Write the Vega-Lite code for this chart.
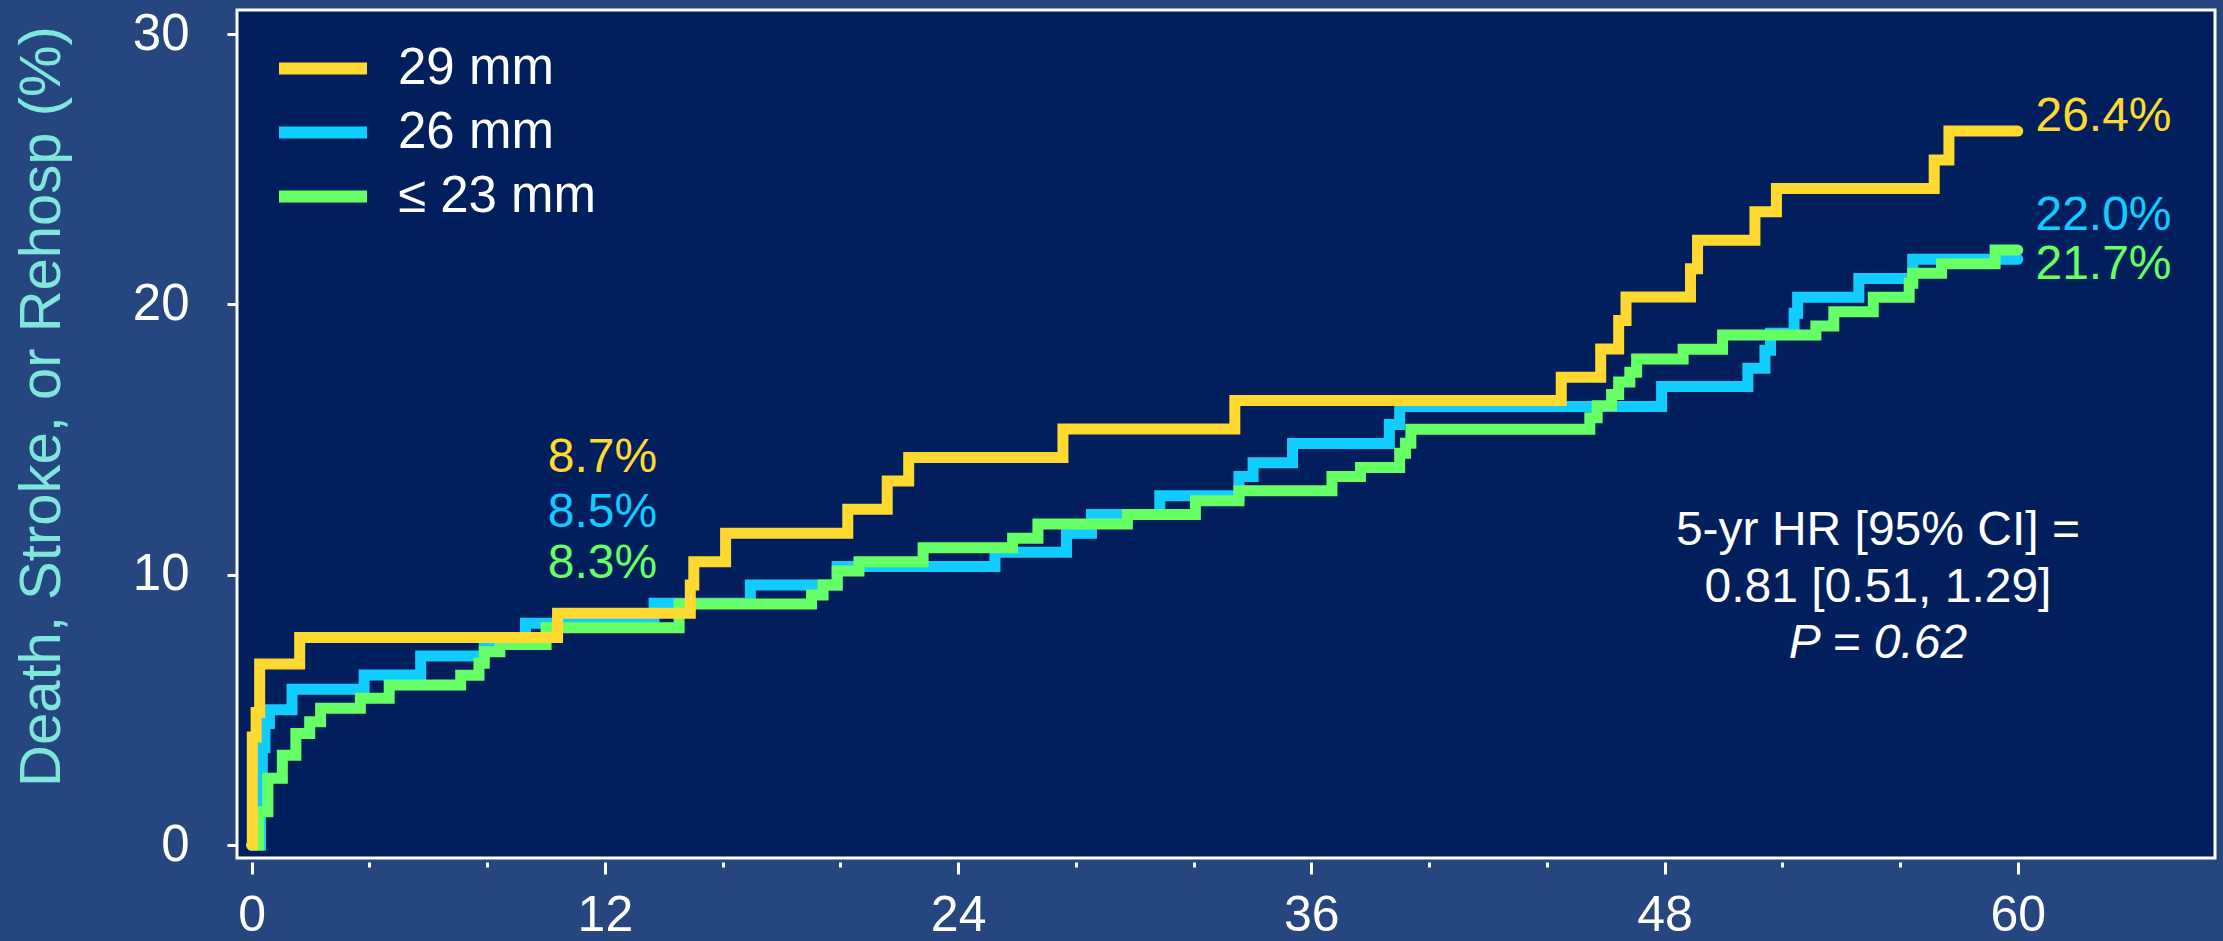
{
  "$schema": "https://vega.github.io/schema/vega-lite/v6.json",
  "width": 1978,
  "height": 848,
  "autosize": "none",
  "padding": {"left": 237, "top": 10, "right": 8, "bottom": 83},
  "background": "#264680",
  "config": {
    "font": "Liberation Sans",
    "view": {"fill": "#011f5d", "stroke": "#ffffff", "strokeWidth": 3}
  },
  "datasets": {
    "curves": [
      {"g": "29 mm", "t": 0, "v": 0},
      {"g": "29 mm", "t": 0.02, "v": 4.0},
      {"g": "29 mm", "t": 0.15, "v": 4.9},
      {"g": "29 mm", "t": 0.27, "v": 6.7},
      {"g": "29 mm", "t": 1.63, "v": 7.68},
      {"g": "29 mm", "t": 10.39, "v": 8.57},
      {"g": "29 mm", "t": 14.9, "v": 9.62},
      {"g": "29 mm", "t": 15.02, "v": 10.48},
      {"g": "29 mm", "t": 16.1, "v": 11.53},
      {"g": "29 mm", "t": 20.25, "v": 12.42},
      {"g": "29 mm", "t": 21.59, "v": 13.47},
      {"g": "29 mm", "t": 22.32, "v": 14.34},
      {"g": "29 mm", "t": 27.56, "v": 15.39},
      {"g": "29 mm", "t": 33.4, "v": 16.44},
      {"g": "29 mm", "t": 44.49, "v": 17.3},
      {"g": "29 mm", "t": 45.83, "v": 18.35},
      {"g": "29 mm", "t": 46.44, "v": 19.4},
      {"g": "29 mm", "t": 46.69, "v": 20.27},
      {"g": "29 mm", "t": 48.88, "v": 21.32},
      {"g": "29 mm", "t": 49.12, "v": 22.37},
      {"g": "29 mm", "t": 51.07, "v": 23.43},
      {"g": "29 mm", "t": 51.8, "v": 24.29},
      {"g": "29 mm", "t": 57.16, "v": 25.34},
      {"g": "29 mm", "t": 57.66, "v": 26.41},
      {"g": "29 mm", "t": 60, "v": 26.41},
      {"g": "26 mm", "t": 0, "v": 0},
      {"g": "26 mm", "t": 0.3, "v": 1.5},
      {"g": "26 mm", "t": 0.36, "v": 3.6},
      {"g": "26 mm", "t": 0.45, "v": 4.5},
      {"g": "26 mm", "t": 0.6, "v": 5.0},
      {"g": "26 mm", "t": 1.37, "v": 5.76},
      {"g": "26 mm", "t": 3.82, "v": 6.29},
      {"g": "26 mm", "t": 5.74, "v": 6.99},
      {"g": "26 mm", "t": 7.9, "v": 7.45},
      {"g": "26 mm", "t": 9.3, "v": 8.2},
      {"g": "26 mm", "t": 13.67, "v": 8.94},
      {"g": "26 mm", "t": 16.94, "v": 9.62},
      {"g": "26 mm", "t": 19.89, "v": 10.3},
      {"g": "26 mm", "t": 25.25, "v": 10.83},
      {"g": "26 mm", "t": 27.68, "v": 11.53},
      {"g": "26 mm", "t": 28.53, "v": 12.23},
      {"g": "26 mm", "t": 30.85, "v": 12.92},
      {"g": "26 mm", "t": 33.54, "v": 13.63},
      {"g": "26 mm", "t": 34.02, "v": 14.14},
      {"g": "26 mm", "t": 35.36, "v": 14.85},
      {"g": "26 mm", "t": 38.65, "v": 15.56},
      {"g": "26 mm", "t": 39.0, "v": 16.22},
      {"g": "26 mm", "t": 47.9, "v": 16.96},
      {"g": "26 mm", "t": 50.83, "v": 17.64},
      {"g": "26 mm", "t": 51.41, "v": 18.3},
      {"g": "26 mm", "t": 51.6, "v": 18.93},
      {"g": "26 mm", "t": 52.4, "v": 19.67},
      {"g": "26 mm", "t": 52.52, "v": 20.26},
      {"g": "26 mm", "t": 54.6, "v": 20.96},
      {"g": "26 mm", "t": 56.43, "v": 21.67},
      {"g": "26 mm", "t": 60, "v": 21.67},
      {"g": "≤ 23 mm", "t": 0, "v": 0},
      {"g": "≤ 23 mm", "t": 0.24, "v": 1.23},
      {"g": "≤ 23 mm", "t": 0.55, "v": 2.47},
      {"g": "≤ 23 mm", "t": 1.04, "v": 3.32},
      {"g": "≤ 23 mm", "t": 1.5, "v": 4.13},
      {"g": "≤ 23 mm", "t": 1.97, "v": 4.56},
      {"g": "≤ 23 mm", "t": 2.34, "v": 5.06},
      {"g": "≤ 23 mm", "t": 3.69, "v": 5.43},
      {"g": "≤ 23 mm", "t": 4.67, "v": 5.92},
      {"g": "≤ 23 mm", "t": 7.1, "v": 6.28},
      {"g": "≤ 23 mm", "t": 7.72, "v": 6.72},
      {"g": "≤ 23 mm", "t": 7.9, "v": 7.15},
      {"g": "≤ 23 mm", "t": 8.43, "v": 7.42},
      {"g": "≤ 23 mm", "t": 10.0, "v": 8.04},
      {"g": "≤ 23 mm", "t": 14.52, "v": 8.92},
      {"g": "≤ 23 mm", "t": 19.02, "v": 9.25},
      {"g": "≤ 23 mm", "t": 19.41, "v": 9.62},
      {"g": "≤ 23 mm", "t": 19.89, "v": 10.14},
      {"g": "≤ 23 mm", "t": 20.63, "v": 10.48},
      {"g": "≤ 23 mm", "t": 22.81, "v": 11.0},
      {"g": "≤ 23 mm", "t": 25.85, "v": 11.35},
      {"g": "≤ 23 mm", "t": 26.71, "v": 11.88},
      {"g": "≤ 23 mm", "t": 29.75, "v": 12.23},
      {"g": "≤ 23 mm", "t": 32.06, "v": 12.74},
      {"g": "≤ 23 mm", "t": 33.54, "v": 13.11},
      {"g": "≤ 23 mm", "t": 36.7, "v": 13.63},
      {"g": "≤ 23 mm", "t": 37.67, "v": 13.97},
      {"g": "≤ 23 mm", "t": 39.0, "v": 14.49},
      {"g": "≤ 23 mm", "t": 39.2, "v": 14.86},
      {"g": "≤ 23 mm", "t": 39.38, "v": 15.38},
      {"g": "≤ 23 mm", "t": 45.46, "v": 15.81},
      {"g": "≤ 23 mm", "t": 45.71, "v": 16.25},
      {"g": "≤ 23 mm", "t": 46.2, "v": 16.67},
      {"g": "≤ 23 mm", "t": 46.44, "v": 17.13},
      {"g": "≤ 23 mm", "t": 46.82, "v": 17.49},
      {"g": "≤ 23 mm", "t": 47.05, "v": 17.98},
      {"g": "≤ 23 mm", "t": 48.63, "v": 18.34},
      {"g": "≤ 23 mm", "t": 49.97, "v": 18.87},
      {"g": "≤ 23 mm", "t": 53.14, "v": 19.2},
      {"g": "≤ 23 mm", "t": 53.75, "v": 19.73},
      {"g": "≤ 23 mm", "t": 55.09, "v": 20.26},
      {"g": "≤ 23 mm", "t": 56.31, "v": 20.78},
      {"g": "≤ 23 mm", "t": 56.43, "v": 21.15},
      {"g": "≤ 23 mm", "t": 57.41, "v": 21.5},
      {"g": "≤ 23 mm", "t": 59.23, "v": 22.01},
      {"g": "≤ 23 mm", "t": 60, "v": 22.01}
    ],
    "labels": [
      {"g": "29 mm", "t": 10.06, "v": 13.8, "text": "8.7%"},
      {"g": "26 mm", "t": 10.06, "v": 11.78, "text": "8.5%"},
      {"g": "≤ 23 mm", "t": 10.06, "v": 9.89, "text": "8.3%"},
      {"g": "29 mm", "t": 60.6, "v": 26.41, "text": "26.4%"},
      {"g": "26 mm", "t": 60.6, "v": 22.75, "text": "22.0%"},
      {"g": "≤ 23 mm", "t": 60.6, "v": 20.93, "text": "21.7%"}
    ],
    "stats": [
      {"kind": "hr", "t": 55.25, "v": 11.1, "text": "5-yr HR [95% CI] ="},
      {"kind": "hr", "t": 55.25, "v": 9.0, "text": "0.81 [0.51, 1.29]"},
      {"kind": "p", "t": 55.25, "v": 6.91, "text": "P = 0.62"}
    ]
  },
  "encoding": {
    "x": {
      "field": "t",
      "type": "quantitative",
      "scale": {"domain": [-0.5, 66.7], "nice": false, "zero": false},
      "axis": {
        "values": [0, 4, 8, 12, 16, 20, 24, 28, 32, 36, 40, 44, 48, 52, 56, 60],
        "labelExpr": "datum.value % 12 === 0 ? datum.label : ''",
        "tickSize": {"condition": {"test": "datum.value % 12 === 0", "value": 12}, "value": 5},
        "tickWidth": 3,
        "tickColor": "#ffffff",
        "domain": false,
        "grid": false,
        "title": null,
        "offset": 4,
        "labelFontSize": 50,
        "labelColor": "#ffffff",
        "labelFont": "Liberation Sans",
        "labelPadding": 16,
        "labelFlush": false,
        "labelOverlap": false
      }
    },
    "y": {
      "field": "v",
      "type": "quantitative",
      "scale": {"domain": [-0.48, 30.89], "nice": false, "zero": false},
      "axis": {
        "values": [0, 10, 20, 30],
        "tickSize": 10,
        "tickWidth": 3,
        "tickColor": "#ffffff",
        "domain": false,
        "grid": false,
        "labelFontSize": 51,
        "labelColor": "#ffffff",
        "labelFont": "Liberation Sans",
        "labelPadding": 38,
        "labelFlush": false,
        "title": "Death, Stroke, or Rehosp (%)",
        "titleFontSize": 58,
        "titleFont": "Liberation Sans",
        "titleFontWeight": "normal",
        "titleColor": "#80e6dc",
        "titleAngle": -90,
        "titleX": -178,
        "titleY": 396,
        "titleAlign": "center",
        "titleBaseline": "alphabetic"
      }
    }
  },
  "layer": [
    {
      "data": {"name": "curves"},
      "transform": [{"filter": "datum.g === '26 mm'"}],
      "mark": {"type": "line", "interpolate": "step-after", "strokeWidth": 11, "strokeCap": "round", "strokeJoin": "miter"},
      "encoding": {
        "color": {
          "field": "g",
          "type": "nominal",
          "scale": {"domain": ["29 mm", "26 mm", "≤ 23 mm"], "range": ["#ffd92f", "#10ccff", "#66ff66"]},
          "legend": {
            "orient": "none",
            "legendX": 36,
            "legendY": 33,
            "title": null,
            "symbolType": "stroke",
            "symbolStrokeWidth": 12,
            "symbolSize": 7744,
            "clipHeight": 51,
            "rowPadding": 12,
            "padding": 0,
            "symbolOffset": 0,
            "labelOffset": 25,
            "labelFontSize": 51,
            "labelFont": "Liberation Sans",
            "labelColor": "#ffffff",
            "labelLimit": 500
          }
        }
      }
    },
    {
      "data": {"name": "curves"},
      "transform": [{"filter": "datum.g === '≤ 23 mm'"}],
      "mark": {"type": "line", "interpolate": "step-after", "strokeWidth": 11, "strokeCap": "round", "strokeJoin": "miter"},
      "encoding": {"color": {"field": "g", "type": "nominal"}}
    },
    {
      "data": {"name": "curves"},
      "transform": [{"filter": "datum.g === '29 mm'"}],
      "mark": {"type": "line", "interpolate": "step-after", "strokeWidth": 11, "strokeCap": "round", "strokeJoin": "miter"},
      "encoding": {"color": {"field": "g", "type": "nominal"}}
    },
    {
      "data": {"name": "labels"},
      "transform": [{"filter": "datum.g === '29 mm'"}],
      "mark": {"type": "text", "align": "left", "baseline": "alphabetic", "fontSize": 48, "color": "#ffd92f"},
      "encoding": {"text": {"field": "text"}}
    },
    {
      "data": {"name": "labels"},
      "transform": [{"filter": "datum.g === '26 mm'"}],
      "mark": {"type": "text", "align": "left", "baseline": "alphabetic", "fontSize": 48, "color": "#10ccff"},
      "encoding": {"text": {"field": "text"}}
    },
    {
      "data": {"name": "labels"},
      "transform": [{"filter": "datum.g === '≤ 23 mm'"}],
      "mark": {"type": "text", "align": "left", "baseline": "alphabetic", "fontSize": 48, "color": "#66ff66"},
      "encoding": {"text": {"field": "text"}}
    },
    {
      "data": {"name": "stats"},
      "transform": [{"filter": "datum.kind === 'hr'"}],
      "mark": {"type": "text", "align": "center", "baseline": "alphabetic", "fontSize": 48, "color": "#ffffff"},
      "encoding": {"text": {"field": "text"}}
    },
    {
      "data": {"name": "stats"},
      "transform": [{"filter": "datum.kind === 'p'"}],
      "mark": {"type": "text", "align": "center", "baseline": "alphabetic", "fontSize": 48, "fontStyle": "italic", "color": "#ffffff"},
      "encoding": {"text": {"field": "text"}}
    }
  ]
}
